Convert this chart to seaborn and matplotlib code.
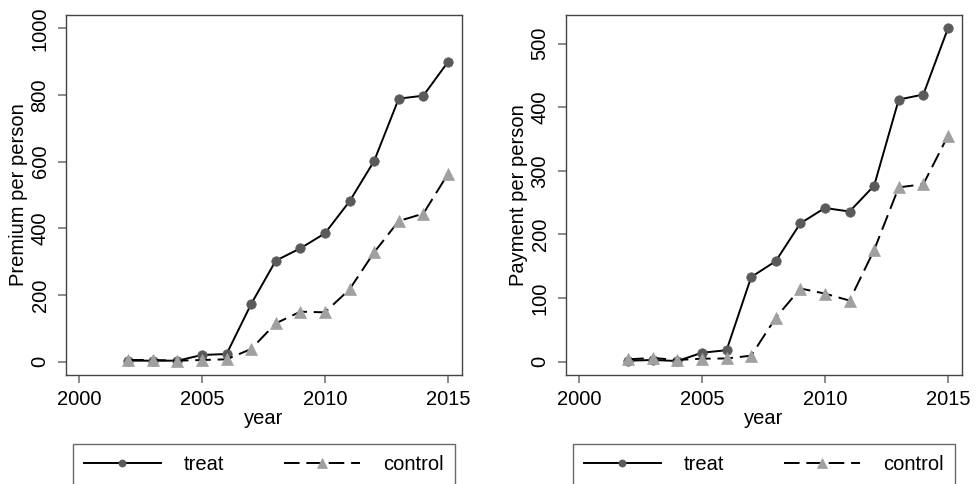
import matplotlib
matplotlib.use("Agg")
import matplotlib.pyplot as plt
import seaborn as sns
import pandas as pd

years = list(range(2002, 2016))

premium_treat = [3, 3, 3, 20, 23, 173, 303, 340, 385, 481, 602, 789, 798, 899]
premium_control = [5, 5, 3, 5, 7, 38, 115, 150, 148, 217, 328, 422, 444, 563]

payment_treat = [1.5, 2.6, 1, 14, 18, 133, 158, 217.5, 241.6, 236, 276.7, 412, 420, 524]
payment_control = [3.7, 5.8, 2.6, 4.7, 5, 9.4, 69, 115, 107, 96, 175.6, 274, 279, 355]

groups = ["treat", "control"]
x_ticks = [2000, 2005, 2010, 2015]
premium_ticks = [0, 200, 400, 600, 800, 1000]
payment_ticks = [0, 100, 200, 300, 400, 500]

plt.rcParams["font.family"] = ["Liberation Sans", "DejaVu Sans"]
FS = 14.5


def long_frame(treat, control):
    return pd.DataFrame({
        "year": years * 2,
        "value": list(treat) + list(control),
        "group": [groups[0]] * len(years) + [groups[1]] * len(years),
    })


styles = {
    "treat": dict(marker="o", markersize=6.8, markerfacecolor="#5a5a5a",
                  markeredgecolor="#5a5a5a", markeredgewidth=0.5),
    "control": dict(marker="^", markersize=9.2, markerfacecolor="#a0a0a0",
                    markeredgecolor="#a0a0a0", markeredgewidth=0.5,
                    dashes=(8, 3.5)),
}


def draw_panel(ax, df, ylabel, yticks, ylim):
    for g in groups:
        sub = df[df["group"] == g]
        kw = dict(styles[g])
        dashes = kw.pop("dashes", None)
        sns.lineplot(data=sub, x="year", y="value", ax=ax, color="black",
                     linewidth=1.4, label=g, errorbar=None, **kw)
        if dashes is not None:
            ax.get_lines()[-1].set_dashes(dashes)
    ax.set_xlim(1999.47, 2015.57)
    ax.set_ylim(*ylim)
    ax.set_xticks(x_ticks)
    ax.set_yticks(yticks)
    ax.set_xlabel("year", fontsize=FS, labelpad=0)
    ax.set_ylabel(ylabel, fontsize=FS, labelpad=2)
    ax.tick_params(axis="both", labelsize=FS, length=5.8, width=1.2,
                   color="#777777", direction="out")
    ax.tick_params(axis="x", pad=5)
    ax.tick_params(axis="y", pad=6)
    for t in ax.get_yticklabels():
        t.set_rotation(90)
        t.set_va("center")
    for s in ax.spines.values():
        s.set_color("#444444")
        s.set_linewidth(1.0)
    handles, labels = ax.get_legend_handles_labels()
    leg = ax.legend(handles, labels, loc="upper center",
                    bbox_to_anchor=(0.5, -0.192), borderaxespad=0, ncol=2,
                    frameon=True, fancybox=False, fontsize=FS,
                    handlelength=3.8, handletextpad=1.15, columnspacing=2.95,
                    borderpad=0.55, markerscale=0.75)
    leg.get_frame().set_edgecolor("#444444")
    leg.get_frame().set_linewidth(1.0)


fig = plt.figure(figsize=(9.76, 4.84), dpi=100)
ax1 = fig.add_axes([0.0676, 0.2252, 0.4057, 0.7438])
ax2 = fig.add_axes([0.5799, 0.2252, 0.4057, 0.7438])

draw_panel(ax1, long_frame(premium_treat, premium_control),
           "Premium per person", premium_ticks, (-40, 1040))
draw_panel(ax2, long_frame(payment_treat, payment_control),
           "Payment per person", payment_ticks, (-21, 545))

fig.savefig("out.png", dpi=100, facecolor="white")
